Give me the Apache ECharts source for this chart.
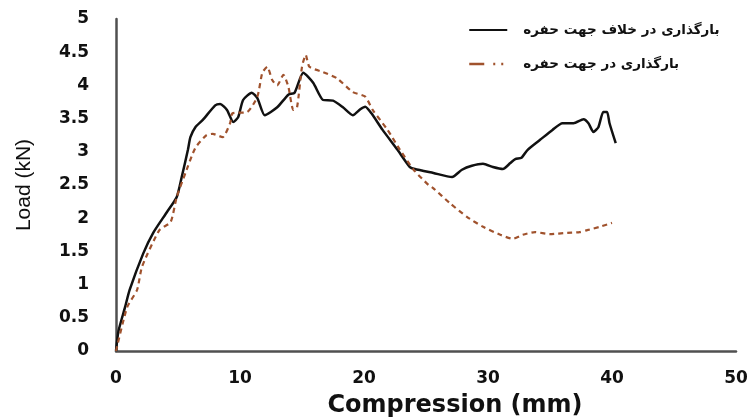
<!DOCTYPE html>
<html>
<head>
<meta charset="utf-8">
<script src="https://cdn.jsdelivr.net/npm/echarts@6/dist/echarts.min.js"></script>
<style>html,body{margin:0;padding:0;background:#fff;}#c{width:751px;height:419px;}</style>
</head>
<body>
<div id="c"></div>
<script>
var seriesNames = ['بارگذاری در خلاف جهت حفره', 'بارگذاری در جهت حفره'];
var xTicks = [0, 10, 20, 30, 40, 50];
var yTicks = [0, 0.5, 1, 1.5, 2, 2.5, 3, 3.5, 4, 4.5, 5];
var againstHole = [[0,0],[0.2,0.3],[0.73,0.66],[1.1,0.92],[2.2,1.47],[3.0,1.78],[4.1,2.09],[4.9,2.32],[5.3,2.62],[5.8,3.03],[6.0,3.22],[6.4,3.37],[7.0,3.48],[8.0,3.70],[8.4,3.72],[8.95,3.63],[9.45,3.45],[9.85,3.52],[10.25,3.78],[10.95,3.89],[11.4,3.81],[12.0,3.55],[13.0,3.67],[13.9,3.86],[14.4,3.89],[15.1,4.19],[15.9,4.04],[16.7,3.78],[17.5,3.77],[18.3,3.67],[19.1,3.55],[19.7,3.64],[20.1,3.68],[20.6,3.58],[21.5,3.33],[22.7,3.03],[23.7,2.77],[24.1,2.74],[25.6,2.68],[27.1,2.62],[27.9,2.73],[28.7,2.79],[29.6,2.82],[30.4,2.77],[31.2,2.74],[31.8,2.83],[32.2,2.89],[32.7,2.91],[33.2,3.03],[34.2,3.18],[35.2,3.33],[36.0,3.43],[36.9,3.43],[37.7,3.49],[38.1,3.43],[38.5,3.30],[38.9,3.37],[39.3,3.60],[39.6,3.60],[39.8,3.43],[40.3,3.13]];
var alongHole = [[0,0],[0.9,0.66],[1.7,0.92],[2.1,1.27],[3.5,1.82],[4.4,1.94],[4.9,2.32],[5.6,2.68],[6.4,3.06],[7.3,3.25],[7.8,3.27],[8.6,3.22],[9.2,3.43],[9.4,3.58],[10.6,3.60],[11.4,3.83],[11.8,4.19],[12.2,4.28],[12.6,4.08],[13.0,4.0],[13.5,4.16],[13.9,3.98],[14.3,3.63],[14.6,3.67],[15.0,4.28],[15.3,4.46],[15.6,4.28],[16.7,4.20],[17.8,4.11],[19.1,3.90],[20.1,3.83],[20.7,3.63],[21.9,3.33],[22.9,3.03],[24.0,2.73],[25.2,2.50],[25.6,2.45],[26.9,2.23],[28.3,2.02],[29.6,1.87],[31.0,1.75],[32.0,1.69],[32.8,1.75],[33.8,1.79],[35.0,1.76],[36.4,1.78],[37.4,1.79],[38.0,1.82],[39.0,1.87],[40.0,1.93]];

var chart = echarts.init(document.getElementById('c'), null, {renderer: 'canvas'});
var tickFont = {fontFamily: 'DejaVu Sans', fontWeight: 'bold', fontSize: 17, color: '#111'};
chart.setOption({
  animation: false,
  backgroundColor: '#fff',
  grid: {left: 116, right: 15, top: 19, bottom: 68, containLabel: false, outerBoundsMode: 'none'},
  legend: {
    orient: 'vertical',
    left: 468,
    top: 23,
    padding: 0,
    itemWidth: 38,
    itemHeight: 14,
    itemGap: 20,
    itemStyle: {opacity: 0},
    textStyle: {fontFamily: 'DejaVu Sans', fontWeight: 'bold', fontSize: 13.5, color: '#111', padding: [0, 0, 0, 11]},
    data: [
      {name: seriesNames[0]},
      {name: seriesNames[1], lineStyle: {type: [15, 9, 2, 6, 2, 20], width: 2.5}}
    ]
  },
  xAxis: {
    type: 'value',
    min: xTicks[0], max: xTicks[xTicks.length - 1], interval: 10,
    name: 'Compression (mm)',
    nameLocation: 'middle',
    nameGap: 43,
    nameTextStyle: {fontFamily: 'DejaVu Sans', fontWeight: 'bold', fontSize: 24, color: '#111', padding: [0, 0, 0, 58]},
    axisLine: {show: true, lineStyle: {color: '#505050', width: 2.5}},
    axisTick: {show: false},
    splitLine: {show: false},
    axisLabel: Object.assign({margin: 19}, tickFont)
  },
  yAxis: {
    type: 'value',
    min: yTicks[0], max: yTicks[yTicks.length - 1], interval: 0.5,
    name: 'Load (kN)',
    nameLocation: 'middle',
    nameGap: 81,
    nameTextStyle: {fontFamily: 'Liberation Sans', fontSize: 21, color: '#111'},
    axisLine: {show: true, lineStyle: {color: '#505050', width: 2.5}},
    axisTick: {show: false},
    splitLine: {show: false},
    axisLabel: Object.assign({margin: 27}, tickFont)
  },
  series: [
    {
      name: seriesNames[0], type: 'line', data: againstHole, symbol: 'none', smooth: 0.2,
      lineStyle: {color: '#111', width: 2.5}, itemStyle: {color: '#111'}
    },
    {
      name: seriesNames[1], type: 'line', data: alongHole, symbol: 'none', smooth: 0.2,
      lineStyle: {color: '#a0522d', width: 2.2, type: [5, 4]}, itemStyle: {color: '#a0522d'}
    }
  ]
});
</script>
</body>
</html>
